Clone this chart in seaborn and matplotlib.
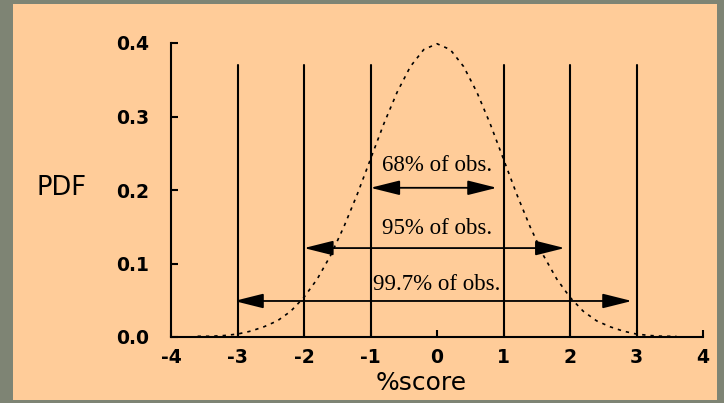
import matplotlib
matplotlib.use("Agg")
import matplotlib.pyplot as plt
import seaborn as sns
from matplotlib.patches import Rectangle

# values
score = [-3.6, -3.4, -3.2, -3.0, -2.8, -2.6, -2.4, -2.2, -2.0, -1.8, -1.6, -1.4, -1.2, -1.0,
         -0.8, -0.6, -0.4, -0.2, 0.0, 0.2, 0.4, 0.6, 0.8, 1.0, 1.2, 1.4, 1.6, 1.8, 2.0,
         2.2, 2.4, 2.6, 2.8, 3.0, 3.2, 3.4, 3.6]
pdf = [0.001, 0.001, 0.002, 0.004, 0.008, 0.014, 0.022, 0.035, 0.054, 0.079, 0.111, 0.150,
       0.194, 0.242, 0.290, 0.333, 0.368, 0.391, 0.399, 0.391, 0.368, 0.333, 0.290, 0.242,
       0.194, 0.150, 0.111, 0.079, 0.054, 0.035, 0.022, 0.014, 0.008, 0.004, 0.002, 0.001, 0.001]

guide_x = [-3, -2, -1, 1, 2, 3]
guide_top = 0.37

ranges = [
    ("68% of obs.", -1.0, 0.9, 0.203, 0.234),
    ("95% of obs.", -2.0, 1.92, 0.121, 0.148),
    ("99.7% of obs.", -3.05, 2.93, 0.049, 0.071),
]

xticks = [-4, -3, -2, -1, 0, 1, 2, 3, 4]
yticks = [0.0, 0.1, 0.2, 0.3, 0.4]

sns.set_style("ticks")
plt.rcParams["text.color"] = "black"
peach = "#FFCC99"

fig = plt.figure(figsize=(7.24, 4.03), dpi=100)
fig.patch.set_facecolor("#7E8474")
fig.patches.append(Rectangle((13 / 724, 3 / 403), 704 / 724, 396 / 403,
                             transform=fig.transFigure, facecolor=peach,
                             edgecolor="none", zorder=-5))

ax = fig.add_axes([171 / 724, 1 - 337 / 403, 532 / 724, 294 / 403])
ax.set_facecolor("none")
ax.set_zorder(2)

sns.lineplot(x=score, y=pdf, ax=ax, color="black", lw=1.2,
             linestyle=(0, (2, 3)), clip_on=False)

for gx in guide_x:
    ax.plot([gx, gx], [0, guide_top], color="black", lw=1.5)

for label, x0, x1, ya, yt in ranges:
    ax.annotate("", xy=(x0, ya), xytext=(x1, ya),
                arrowprops=dict(arrowstyle="<|-|>,head_length=1.8,head_width=0.45",
                                color="black", lw=1.3, mutation_scale=10,
                                shrinkA=0, shrinkB=0))
    ax.text(0, yt, label, ha="center", va="center", fontsize=16.5,
            family="Liberation Serif", color="black")

ax.set_xlim(-4, 4)
ax.set_ylim(0, 0.4)
ax.set_xticks(xticks)
ax.set_yticks(yticks)
ax.set_xticklabels([str(t) for t in xticks])
ax.set_yticklabels([f"{t:.1f}" for t in yticks])
for lab in ax.get_xticklabels() + ax.get_yticklabels():
    lab.set_fontweight("bold")
    lab.set_family("DejaVu Sans")
    lab.set_fontsize(13.5)
ax.tick_params(axis="both", direction="in", length=5, width=1.5,
               colors="black", labelcolor="black")
ax.tick_params(axis="y", pad=16)
ax.tick_params(axis="x", pad=8)
sns.despine(ax=ax)
for s in ["left", "bottom"]:
    ax.spines[s].set_linewidth(1.5)
    ax.spines[s].set_color("black")

fig.text(61 / 724, 1 - 188 / 403, "PDF", ha="center", va="center", fontsize=18.5,
         family="DejaVu Sans", color="black")
fig.text(421 / 724, 1 - 383 / 403, "%score", ha="center", va="center", fontsize=18,
         family="DejaVu Sans", color="black")

fig.savefig("out.png", dpi=100, facecolor=fig.get_facecolor())
